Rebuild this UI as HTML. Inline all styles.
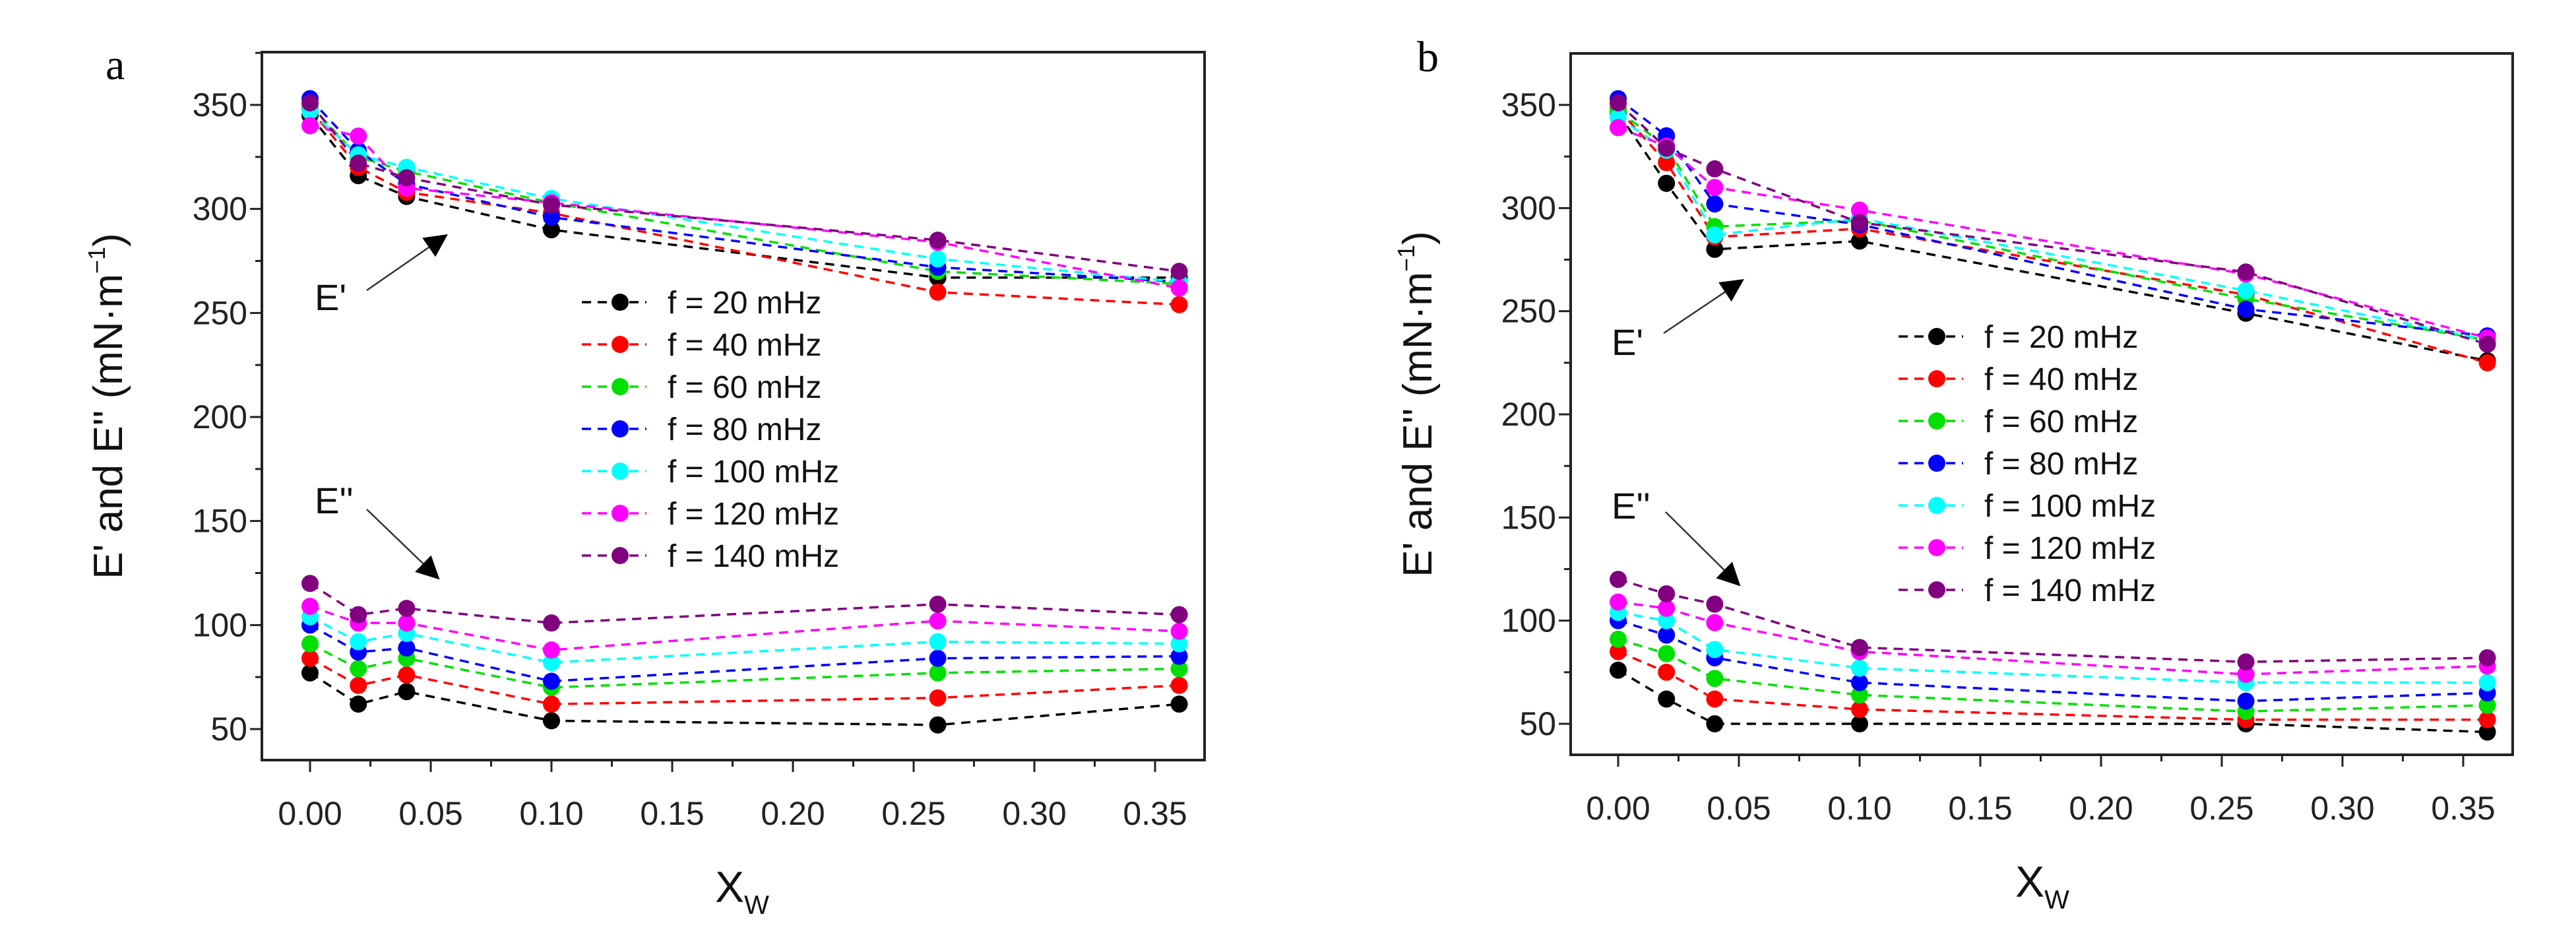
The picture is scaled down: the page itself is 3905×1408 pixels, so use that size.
<!DOCTYPE html>
<html><head><meta charset="utf-8"><style>
body{margin:0;background:#fff}
svg{display:block}
text{font-family:"Liberation Sans",Arial,sans-serif}
</style></head><body>
<svg id="chart" width="3905" height="1408" viewBox="0 0 3905 1408" xmlns="http://www.w3.org/2000/svg">
<defs>
<marker id="ah" viewBox="0 0 10 10" refX="9" refY="5" markerWidth="14" markerHeight="14" orient="auto"><path d="M0,0 L10,5 L0,10 z" fill="#000"/></marker>
</defs>
</svg>
<script>
const xs = [0, 0.02, 0.04, 0.10, 0.26, 0.36];
const freqs = ["f = 20 mHz","f = 40 mHz","f = 60 mHz","f = 80 mHz","f = 100 mHz","f = 120 mHz","f = 140 mHz"];
const colors = ["#000000","#ff0000","#00e000","#0000ff","#00ffff","#ff00ff","#800080"];
const xTicks = [0,0.05,0.10,0.15,0.20,0.25,0.30,0.35];
const xTickLabels = ["0.00","0.05","0.10","0.15","0.20","0.25","0.30","0.35"];
const yTicks = [50,100,150,200,250,300,350];
const aStorage = [
 [345,316,306,290,267,267],
 [348,320,308,298,260,254],
 [350,325,318,303,270,264],
 [353,328,312,296,272,265],
 [347,326,320,305,276,265],
 [340,335,310,303,284,262],
 [351,322,315,302,285,270]];
const aLoss = [
 [77,62,68,54,52,62],
 [84,71,76,62,65,71],
 [91,79,84,70,77,79],
 [100,87,89,73,84,85],
 [104,92,96,82,92,91],
 [109,101,101,88,102,97],
 [120,105,108,101,110,105]];
const bStorage = [
 [346,312,280,284,249,226],
 [348,322,286,290,258,225],
 [347,330,291,294,256,236],
 [353,335,302,292,251,238],
 [344,328,287,295,260,236],
 [339,330,310,299,268,237],
 [351,329,319,293,269,234]];
const bLoss = [
 [76,62,50,50,50,46],
 [85,75,62,57,52,52],
 [91,84,72,64,56,59],
 [100,93,82,70,61,65],
 [104,100,86,77,70,70],
 [109,106,99,85,74,78],
 [120,113,108,87,80,82]];

const NS="http://www.w3.org/2000/svg";
const svg=document.getElementById('chart');
function mk(tag,attrs,parent,txt){const e=document.createElementNS(NS,tag);for(const k in attrs)e.setAttribute(k,attrs[k]);if(txt!==undefined)e.textContent=txt;(parent||svg).appendChild(e);return e;}

function panel(cfg){
  const g=mk('g',{});
  
  
  const X=v=>cfg.x0+(v-0)*(cfg.x35-cfg.x0)/0.35;
  const Y=v=>cfg.y50+(v-50)*(cfg.y350-cfg.y50)/300;
  const t=mk('text',{x:cfg.lx,y:cfg.ly,'font-size':66,style:'font-family:"Liberation Serif",serif'},g,cfg.letter);
  
  
  const box=mk('rect',{x:cfg.L,y:cfg.T,width:cfg.R-cfg.L,height:cfg.B-cfg.T,fill:'none',stroke:'#222','stroke-width':4},g);
  
  
  // y ticks
  for(let v=50;v<=375;v+=25){const y=Y(v);if(y<cfg.T)continue;const major=v%50===0;
    mk('line',{x1:cfg.L,x2:cfg.L-(major?18:10),y1:y,y2:y,stroke:'#222','stroke-width':3},g);}
  yTicks.forEach(v=>{const e=mk('text',{x:cfg.L-22,y:Y(v)+17,'font-size':50,'text-anchor':'end',fill:'#222'},g,String(v));
    
    });
  for(let i=0;i<=15;i++){const v=i*0.025;const x=X(v);if(x>cfg.R)continue;const major=i%2===0;
    mk('line',{x1:x,x2:x,y1:cfg.B,y2:cfg.B+(major?18:10),stroke:'#222','stroke-width':3},g);}
  xTicks.forEach((v,i)=>{const e=mk('text',{x:X(v),y:cfg.B+98,'font-size':50,'text-anchor':'middle',fill:'#222'},g,xTickLabels[i]);
    
    });
  const yt=mk('text',{x:0,y:0,'font-size':62,'text-anchor':'middle',fill:'#111',transform:`translate(${cfg.ytx},${(cfg.T+cfg.B)/2}) rotate(-90)`},g);
  
  
  yt.appendChild(document.createTextNode("E' and E'' (mN·m"));
  mk('tspan',{'font-size':36,dy:-26},yt,'−1');
  mk('tspan',{dy:26},yt,')');
  const xt=mk('text',{x:cfg.xtx,y:cfg.B+215,'font-size':66,'text-anchor':'middle',fill:'#111'},g,'X');
  
  
  mk('tspan',{'font-size':40,dy:18},xt,'W');
  // series
  [cfg.st,cfg.lo].forEach((set,si)=>{
    set.forEach((vals,k)=>{
      const pts=xs.map((x,i)=>X(x)+','+Y(vals[i])).join(' ');
      const pl=mk('polyline',{points:pts,fill:'none',stroke:colors[k],'stroke-width':3.5,'stroke-dasharray':'14 10'},g);
      
      
    });
  });
  [cfg.st,cfg.lo].forEach((set,si)=>{
    set.forEach((vals,k)=>{
      vals.forEach((v,i)=>{
        const c=mk('circle',{cx:X(xs[i]),cy:Y(v),r:13,fill:colors[k]},g);
        
        
      });
    });
  });
  // legend
  freqs.forEach((f,k)=>{
    const y=cfg.legY+k*64;
    const lg=mk('g',{},g);
    
    
    mk('line',{x1:cfg.legX-58,x2:cfg.legX+40,y1:y,y2:y,stroke:colors[k],'stroke-width':3.5,'stroke-dasharray':'14 10'},lg);
    mk('circle',{cx:cfg.legX,cy:y,r:13,fill:colors[k]},lg);
    mk('text',{x:cfg.legX+72,y:y+17,'font-size':48,fill:'#111'},lg,f);
  });
  // annotations
  const a1=mk('text',{x:cfg.e1[0],y:cfg.e1[1],'font-size':56,fill:'#111'},g,"E'");
  
  
  const a2=mk('text',{x:cfg.e2[0],y:cfg.e2[1],'font-size':56,fill:'#111'},g,"E''");
  
  
  mk('line',{x1:cfg.ar1[0],y1:cfg.ar1[1],x2:cfg.ar1[2],y2:cfg.ar1[3],stroke:'#333','stroke-width':2.5,'marker-end':'url(#ah)'},g);
  mk('line',{x1:cfg.ar2[0],y1:cfg.ar2[1],x2:cfg.ar2[2],y2:cfg.ar2[3],stroke:'#333','stroke-width':2.5,'marker-end':'url(#ah)'},g);
}
panel({letter:'a',lx:160,ly:120,L:397,R:1826,T:79,B:1152,x0:470,x35:1751,y50:1105,y350:159,
  ytx:185,xtx:1125,legX:940,legY:458,st:aStorage,lo:aLoss,
  e1:[477,470],e2:[477,778],ar1:[556,440,676,357],ar2:[556,772,664,876]});
panel({letter:'b',lx:2148,ly:108,L:2381,R:3809,T:81,B:1144,x0:2453,x35:3734,y50:1097,y350:159,
  ytx:2170,xtx:3096,legX:2936,legY:510,st:bStorage,lo:bLoss,
  e1:[2443,538],e2:[2443,786],ar1:[2522,505,2641,425],ar2:[2525,776,2636,886]});
</script>
</body></html>
